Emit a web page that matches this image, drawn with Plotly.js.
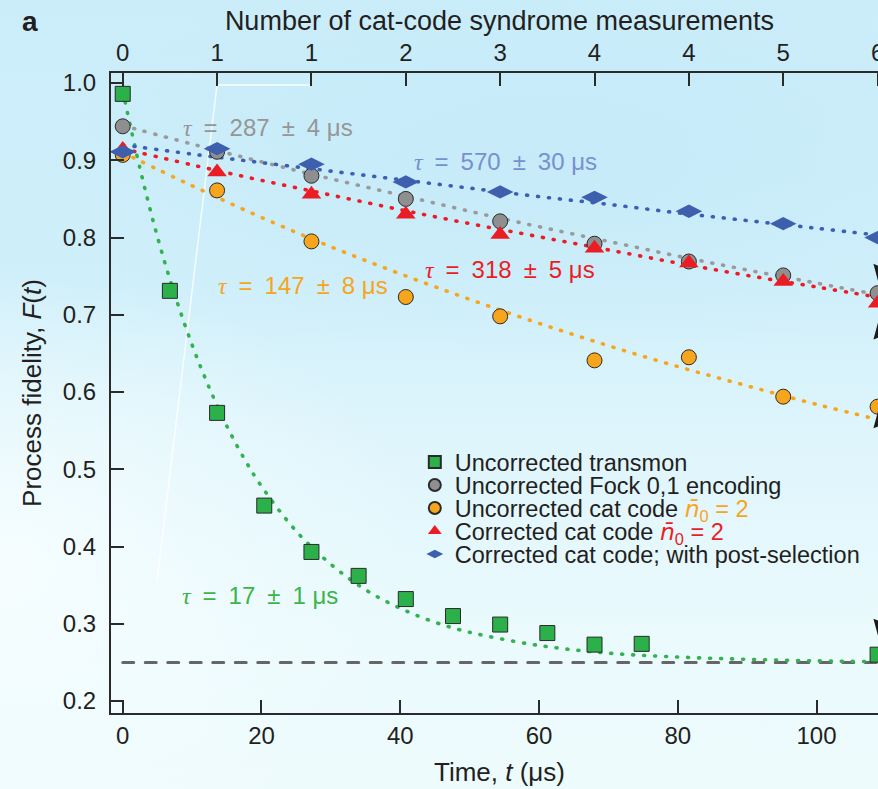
<!DOCTYPE html>
<html><head><meta charset="utf-8">
<script src="https://cdn.plot.ly/plotly-3.0.1.min.js"></script>
<style>
html,body{margin:0;padding:0;width:878px;height:789px;overflow:hidden;}
body{background:
 radial-gradient(ellipse 430px 300px at 0% 72%, rgba(248,254,255,0.85), rgba(248,254,255,0) 100%),
 radial-gradient(ellipse 520px 200px at 62% 20%, rgba(193,232,248,0.6), rgba(193,232,248,0) 100%),
 linear-gradient(180deg, #cbedfa 0%, #cfeffa 35%, #def5fc 55%, #eafafd 80%, #eefbfd 100%);}
#plot{width:900px;height:789px;}
#plot path.js-line{stroke-linecap:round;}
</style></head><body><div id="plot"></div><script>
// ---- data ----
const tTransmon = [0, 6.8, 13.6, 20.4, 27.2, 34.0, 40.8, 47.6, 54.4, 61.2, 68.0, 74.8, 108.8];
const fTransmon = [0.986, 0.731, 0.573, 0.453, 0.393, 0.362, 0.332, 0.310, 0.299, 0.288, 0.273, 0.274, 0.260];

const tCat = [0, 13.6, 27.2, 40.8, 54.4, 68.0, 81.6, 95.2, 108.8];
const fFock = [0.944, 0.911, 0.880, 0.850, 0.821, 0.792, 0.769, 0.751, 0.728];
const fUncorrCat = [0.907, 0.861, 0.795, 0.723, 0.698, 0.641, 0.645, 0.594, 0.581];
const fCorrCat = [0.914, 0.885, 0.856, 0.830, 0.804, 0.786, 0.767, 0.743, 0.715];
const fPostSel = [0.911, 0.915, 0.895, 0.872, 0.859, 0.852, 0.834, 0.818, 0.800];

// fit curves (dotted)
const tFitTransmon = [0, 2.5, 5, 7.5, 10, 12.5, 15, 17.5, 20, 25, 30, 35, 40, 45, 50, 60, 70, 80, 90, 100, 110];
const fFitTransmon = [0.990, 0.889, 0.801, 0.726, 0.661, 0.605, 0.556, 0.514, 0.478, 0.420, 0.377, 0.344, 0.320, 0.302, 0.289, 0.272, 0.262, 0.257, 0.254, 0.252, 0.251];
const tFit = [0, 10, 20, 30, 40, 50, 60, 70, 80, 90, 100, 110];
const fFitFock = [0.945, 0.921, 0.898, 0.876, 0.855, 0.834, 0.814, 0.795, 0.776, 0.758, 0.741, 0.724];
const fFitUncorrCat = [0.910, 0.867, 0.826, 0.788, 0.753, 0.720, 0.689, 0.660, 0.633, 0.608, 0.584, 0.562];
const fFitCorrCat = [0.915, 0.894, 0.874, 0.855, 0.836, 0.818, 0.801, 0.784, 0.767, 0.751, 0.736, 0.721];
const fFitPostSel = [0.920, 0.908, 0.897, 0.886, 0.875, 0.864, 0.853, 0.843, 0.832, 0.822, 0.812, 0.802];

const baselineT = [0, 110];
const baselineF = [0.25, 0.25];

const bottomTicks = [0, 20, 40, 60, 80, 100];
const leftTicks = [0.2, 0.3, 0.4, 0.5, 0.6, 0.7, 0.8, 0.9, 1.0];
const syndromeTimes = [0, 13.6, 27.2, 40.8, 54.4, 68.0, 81.6, 95.2, 108.8];
const syndromeLabels = ['0', '1', '1', '2', '3', '4', '4', '5', '6'];

const nbar = '<span style="font-family:\'DejaVu Sans\';font-style:italic">n\u0304</span><sub>0</sub>';
const seriesNames = [
  'Uncorrected transmon',
  'Uncorrected Fock 0,1 encoding',
  'Uncorrected cat code <span style="color:#f7a51c">' + nbar + ' = 2</span>',
  'Corrected cat code <span style="color:#ec1c24">' + nbar + ' = 2</span>',
  'Corrected cat code; with post-selection'
];
const tauLabels = ['287 ± 4 μs', '570 ± 30 μs', '318 ± 5 μs', '147 ± 8 μs', '17 ± 1 μs'];

// ---- styling ----
const C = {green:'#2bb04a', gray:'#8f8f8f', orange:'#f7a51c', red:'#ec1c24', blue:'#3d5fae',
  fitGreen:'#33b34f', fitGray:'#9a9a9a', fitOrange:'#f7a51c', fitRed:'#ec1c24', fitBlue:'#3b5fb8'};
const FONT = 'Liberation Sans, Arial, Helvetica, sans-serif';
const INK = '#231f20';
const dotted = (color) => ({color: color, width: 3.6, dash: '1px,10px', shape: 'spline', smoothing: 1});
const fit = (x, y, color) => ({x: x, y: y, type: 'scatter', mode: 'lines', line: dotted(color), showlegend: false, hoverinfo: 'skip'});

const traces = [
  {x: baselineT, y: baselineF, type:'scatter', mode:'lines', line:{color:'#666666', width:3, dash:'11px,11.5px'}, showlegend:false, hoverinfo:'skip'},
  fit(tFitTransmon, fFitTransmon, C.fitGreen),
  fit(tFit, fFitFock, C.fitGray),
  fit(tFit, fFitUncorrCat, C.fitOrange),
  fit(tFit, fFitCorrCat, C.fitRed),
  fit(tFit, fFitPostSel, C.fitBlue),
  {x: tTransmon, y: fTransmon, name: seriesNames[0], legend:'legend', type:'scatter', mode:'markers',
   marker:{symbol:'square', size:15, color:C.green, line:{color:'#2a2a2a', width:1}}},
  {x: tCat, y: fFock, name: seriesNames[1], legend:'legend2', type:'scatter', mode:'markers',
   marker:{symbol:'circle', size:15, color:C.gray, line:{color:'#2a2a2a', width:1}}},
  {x: tCat, y: fUncorrCat, name: seriesNames[2], legend:'legend3', type:'scatter', mode:'markers',
   marker:{symbol:'circle', size:15, color:C.orange, line:{color:'#2a2a2a', width:1}}},
  {x: tCat, y: fCorrCat, name: seriesNames[3], legend:'legend4', type:'scatter', mode:'markers',
   marker:{symbol:'triangle-up', size:17, color:C.red, line:{width:0}}},
  {x: tCat, y: fPostSel, name: seriesNames[4], legend:'legend5', type:'scatter', mode:'markers',
   marker:{symbol:'diamond-wide', size:19, color:C.blue, line:{width:0}}},
  // carrier for the top axis
  {x: syndromeTimes, y: syndromeTimes.map(() => null), xaxis:'x2', type:'scatter', mode:'markers', showlegend:false, hoverinfo:'skip'}
];

const legendBase = (y) => ({x: 0.391, y: y, xanchor:'left', yanchor:'middle', bgcolor:'rgba(0,0,0,0)', borderwidth:0,
  font:{family:FONT, size:23.5, color:INK}, itemsizing:'constant', tracegroupgap:0});

const axisCommon = {showline:true, linecolor:'#2a2a2a', linewidth:2, ticks:'inside', ticklen:13, tickwidth:2,
  tickcolor:'#2a2a2a', showgrid:false, zeroline:false, tickfont:{family:FONT, size:24, color:INK}};

const tau = (txt) => '<span style="font-family:\'Liberation Serif\',serif"><i>τ</i></span>\u2002=\u2002' + txt.replace(' ± ', '\u2002±\u2002');
const tauAnn = (x, y, txt, color) => ({x:x, y:y, xref:'x', yref:'y', text:tau(txt), showarrow:false,
  font:{family:FONT, size:24, color:color}, xanchor:'center', yanchor:'middle'});
const arrowAnn = (x, y, ax, ay) => ({x:x, y:y, xref:'x', yref:'y', text:'', showarrow:true, ax:ax, ay:ay,
  arrowcolor:'#1b1b1b', arrowhead:2, arrowsize:2.2, arrowwidth:2.5});

const layout = {
  width: 900, height: 789,
  margin: {l:111, r:12, t:73, b:76},
  paper_bgcolor:'rgba(0,0,0,0)', plot_bgcolor:'rgba(0,0,0,0)',
  font:{family:FONT, color:INK},
  xaxis: Object.assign({}, axisCommon, {range:[-1.69, 110.3], tickvals:bottomTicks,
    title:{text:'Time, <i>t</i> (μs)', font:{family:FONT, size:26, color:INK}, standoff:15}}),
  xaxis2: Object.assign({}, axisCommon, {range:[-1.69, 110.3], overlaying:'x', side:'top', anchor:'y',
    tickvals:syndromeTimes, ticktext:syndromeLabels,
    title:{text:'Number of cat-code syndrome measurements', font:{family:FONT, size:27, color:INK}, standoff:1}}),
  yaxis: Object.assign({}, axisCommon, {range:[0.1845, 1.013], tickvals:leftTicks, tickformat:'.1f', ticklabelstandoff:8,
    title:{text:'Process fidelity, <i>F</i>(<i>t</i>)', font:{family:FONT, size:26, color:INK}, standoff:14}}),
  legend: legendBase(0.392),
  legend2: legendBase(0.356),
  legend3: legendBase(0.320),
  legend4: legendBase(0.284),
  legend5: legendBase(0.248),
  shapes: [
    {type:'line', xref:'x', yref:'y', x0:13.59, y0:0.9974, x1:27.13, y1:0.9974, line:{color:'rgba(255,255,255,0.95)', width:1.5}, layer:'below'},
    {type:'line', xref:'x', yref:'y', x0:13.59, y0:0.9974, x1:4.94, y1:0.356, line:{color:'rgba(255,255,255,0.8)', width:1.5}, layer:'below'}
  ],
  annotations: [
    tauAnn(20.9, 0.942, tauLabels[0], '#969696'),
    tauAnn(55.1, 0.898, tauLabels[1], '#7890d0'),
    tauAnn(55.8, 0.758, tauLabels[2], '#ec1c24'),
    tauAnn(26.0, 0.738, tauLabels[3], '#f7a51c'),
    tauAnn(19.8, 0.336, tauLabels[4], '#3cb44b'),
    arrowAnn(108.2, 0.766, 30, 30),
    arrowAnn(108.2, 0.668, 30, -30),
    arrowAnn(108.2, 0.553, 30, -30),
    arrowAnn(108.2, 0.3065, 30, 30),
    {xref:'paper', yref:'paper', x:-0.104, y:1.08, text:'<b>a</b>', showarrow:false,
     font:{family:FONT, size:28, color:INK}, xanchor:'center', yanchor:'middle'}
  ]
};

Plotly.newPlot('plot', traces, layout, {displayModeBar:false, responsive:false});
</script></body></html>
